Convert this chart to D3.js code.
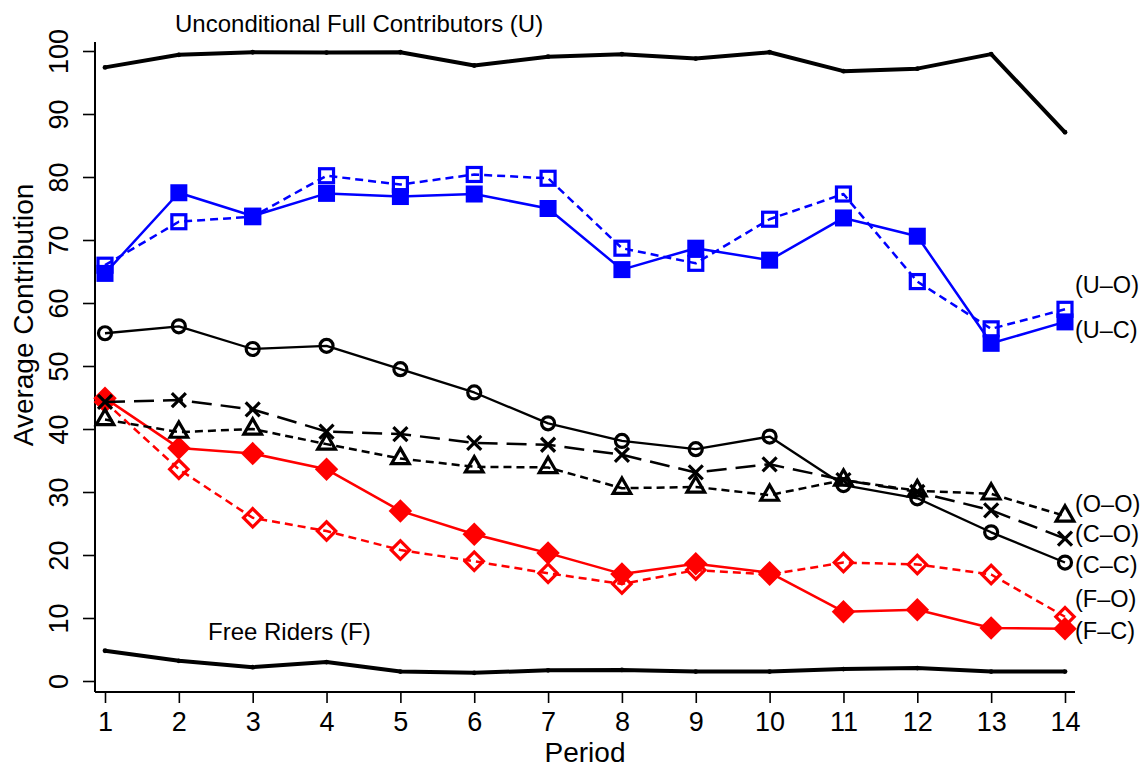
<!DOCTYPE html>
<html><head><meta charset="utf-8">
<script src="https://cdn.jsdelivr.net/npm/d3@7"></script>
<style>body{margin:0;background:#fff}svg{display:block}text{font-family:"Liberation Sans",Arial,Helvetica,sans-serif}</style>
</head><body><svg id="c" width="1141" height="767"></svg>
<script>
const periods = [1,2,3,4,5,6,7,8,9,10,11,12,13,14];
const yTicks = [0,10,20,30,40,50,60,70,80,90,100];
const U   = [97.4,99.4,99.8,99.75,99.8,97.7,99.1,99.5,98.8,99.8,96.8,97.2,99.5,87.1];
const F   = [4.8,3.2,2.2,3.0,1.5,1.3,1.7,1.75,1.5,1.5,1.9,2.05,1.5,1.5];
const UO  = [66.0,72.9,73.7,80.2,78.8,80.4,79.8,68.7,66.3,73.3,77.3,63.4,55.9,59.0];
const UC  = [64.7,77.5,73.8,77.4,76.9,77.3,75.0,65.3,68.7,66.8,73.5,70.6,53.6,57.0];
const CC  = [55.2,56.3,52.7,53.2,49.5,45.8,40.9,38.1,36.8,38.8,31.1,29.0,23.6,18.8];
const CO  = [44.3,44.6,43.1,39.6,39.2,37.8,37.5,35.9,33.1,34.4,31.9,30.0,27.1,22.6];
const OO  = [41.5,39.5,40.0,37.6,35.3,34.0,33.9,30.6,30.8,29.5,31.9,30.2,29.7,26.2];
const FC  = [44.9,37.0,36.1,33.6,27.0,23.3,20.3,17.0,18.6,17.2,11.0,11.3,8.4,8.3];
const FO  = [44.3,33.6,25.9,23.8,20.8,19.0,17.1,15.4,17.6,16.9,18.8,18.5,16.9,10.2];
const rightLabels = ["(U–O)","(U–C)","(O–O)","(C–O)","(C–C)","(F–O)","(F–C)"];
const rightLabelVals = [62.9,55.7,28.1,23.3,18.4,13.0,8.0];

const svg = d3.select("#c");
const x = d3.scaleLinear().domain([1,14]).range([105,1065]);
const y = d3.scaleLinear().domain([0,100]).range([681,51]);

// axes lines (R bty="l" style)
svg.append("line").attr("x1",95).attr("x2",95).attr("y1",42).attr("y2",692).attr("stroke","#000").attr("stroke-width",2);
svg.append("line").attr("x1",95).attr("x2",1075).attr("y1",692).attr("y2",692).attr("stroke","#000").attr("stroke-width",2);

const yAxis = d3.axisLeft(y).tickValues(yTicks).tickSize(12).tickFormat(d3.format("d"));
const gy = svg.append("g").attr("transform","translate(95,0)").call(yAxis);
gy.select(".domain").remove();
gy.selectAll(".tick line").attr("stroke-width",1.6);
gy.selectAll(".tick text").attr("font-size",27).attr("fill","#000")
  .attr("x",0).attr("y",0).attr("dy",null).attr("text-anchor","middle")
  .attr("transform","translate(-27,0) rotate(-90)");

const xAxis = d3.axisBottom(x).tickValues(periods).tickSize(11).tickFormat(d3.format("d"));
const gx = svg.append("g").attr("transform","translate(0,692)").call(xAxis);
gx.select(".domain").remove();
gx.selectAll(".tick line").attr("stroke-width",1.6);
gx.selectAll(".tick text").attr("font-size",27).attr("fill","#000").attr("y",39).attr("dy",null);

svg.append("text").attr("x",585).attr("y",762).attr("text-anchor","middle").attr("font-size",28).text("Period");
svg.append("text").attr("transform","translate(33,315) rotate(-90)").attr("text-anchor","middle").attr("font-size",28).text("Average Contribution");

const line = d3.line().x((d,i)=>x(periods[i])).y(d=>y(d));
function drawLine(vals,color,w,dash){
  svg.append("path").datum(vals).attr("d",line).attr("fill","none").attr("stroke",color)
    .attr("stroke-width",w).attr("stroke-dasharray",dash||null).attr("stroke-linejoin","round");
}
function pts(vals){return vals.map((v,i)=>[x(periods[i]),y(v)]);}

// U and F
drawLine(U,"#000",4);
drawLine(F,"#000",4);
svg.selectAll(null).data(pts(U).concat(pts(F))).enter().append("circle")
  .attr("cx",d=>d[0]).attr("cy",d=>d[1]).attr("r",2.4).attr("fill","#000");

const blue="#0000ff", red="#ff0000";
// U-O open squares dashed
drawLine(UO,blue,2.5,"8,5");
svg.selectAll(null).data(pts(UO)).enter().append("rect")
  .attr("x",d=>d[0]-7).attr("y",d=>d[1]-7).attr("width",14).attr("height",14)
  .attr("fill","none").attr("stroke",blue).attr("stroke-width",3.2);
// U-C filled squares solid
drawLine(UC,blue,2.5);
svg.selectAll(null).data(pts(UC)).enter().append("rect")
  .attr("x",d=>d[0]-8.5).attr("y",d=>d[1]-8.5).attr("width",17).attr("height",17).attr("fill",blue);

// F-O open diamonds dashed
drawLine(FO,red,2.5,"8,5");
svg.selectAll(null).data(pts(FO)).enter().append("rect")
  .attr("x",-6.5).attr("y",-6.5).attr("width",13).attr("height",13)
  .attr("transform",d=>`translate(${d[0]},${d[1]}) rotate(45)`)
  .attr("fill","none").attr("stroke",red).attr("stroke-width",3.2);
// F-C filled diamonds solid
drawLine(FC,red,2.5);
svg.selectAll(null).data(pts(FC)).enter().append("rect")
  .attr("x",-8.3).attr("y",-8.3).attr("width",16.6).attr("height",16.6)
  .attr("transform",d=>`translate(${d[0]},${d[1]}) rotate(45)`).attr("fill",red);

// O-O triangles short dash
drawLine(OO,"#000",2.5,"8,5");
const tri = d3.symbol().type(d3.symbolTriangle).size(135);
svg.selectAll(null).data(pts(OO)).enter().append("path")
  .attr("d",tri).attr("transform",d=>`translate(${d[0]},${d[1]})`)
  .attr("fill","none").attr("stroke","#000").attr("stroke-width",3.2);
// C-O crosses long dash
drawLine(CO,"#000",2.5,"20,9");
svg.selectAll(null).data(pts(CO)).enter().append("path")
  .attr("d","M-7,-7L7,7M-7,7L7,-7").attr("transform",d=>`translate(${d[0]},${d[1]})`)
  .attr("fill","none").attr("stroke","#000").attr("stroke-width",3.2);
// C-C circles solid
drawLine(CC,"#000",2.3);
svg.selectAll(null).data(pts(CC)).enter().append("circle")
  .attr("cx",d=>d[0]).attr("cy",d=>d[1]).attr("r",6.5)
  .attr("fill","none").attr("stroke","#000").attr("stroke-width",3.2);

// labels
svg.append("text").attr("x",175).attr("y",32).attr("font-size",24).text("Unconditional Full Contributors (U)");
svg.append("text").attr("x",208).attr("y",640).attr("font-size",24).text("Free Riders (F)");
svg.selectAll(null).data(rightLabels).enter().append("text")
  .attr("x",1075).attr("y",(d,i)=>y(rightLabelVals[i])).attr("dy","0.35em")
  .attr("font-size",23.5).text(d=>d);
</script></body></html>
